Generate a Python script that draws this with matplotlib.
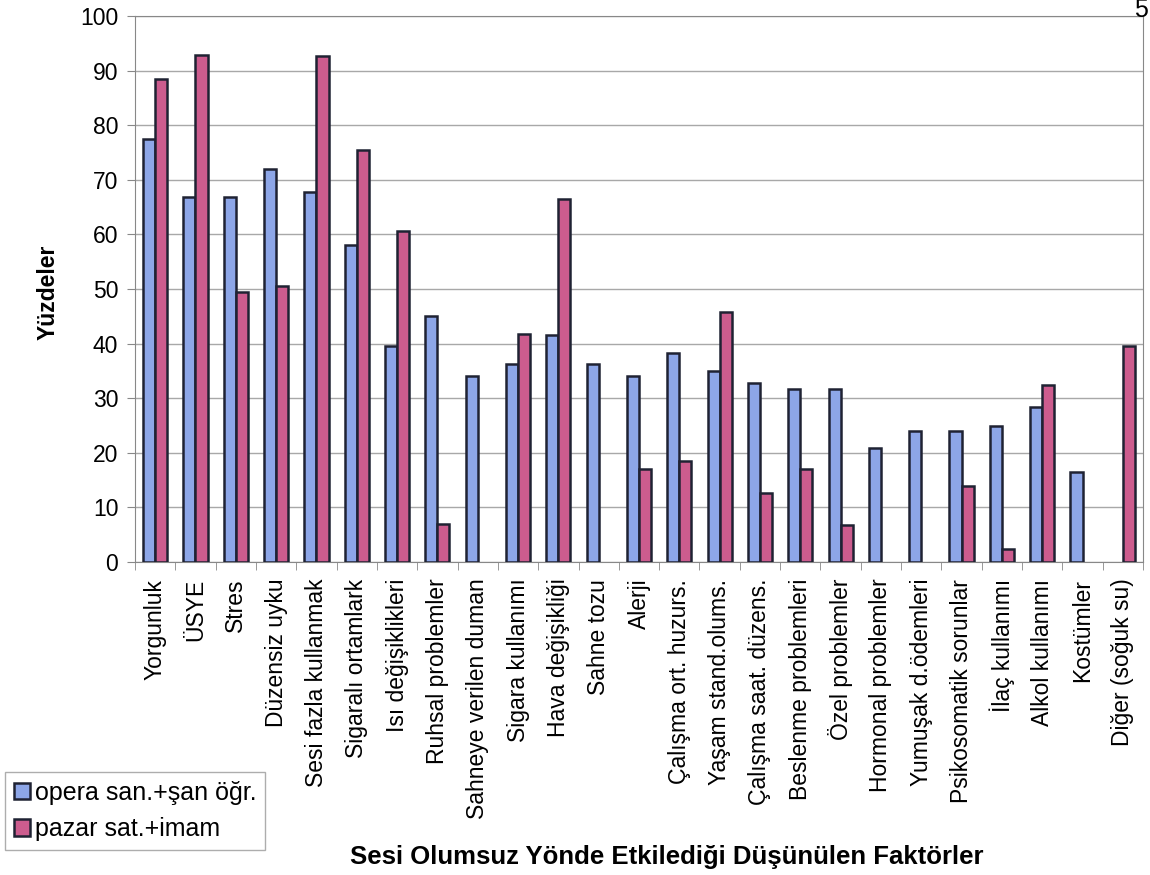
import numpy as np
import matplotlib.pyplot as plt
from matplotlib.ticker import MultipleLocator

plt.rcParams['font.family'] = ['Liberation Sans', 'DejaVu Sans']

categories = ['Yorgunluk', 'ÜSYE', 'Stres', 'Düzensiz uyku', 'Sesi fazla kullanmak',
              'Sigaralı ortamlark', 'Isı değişiklikleri', 'Ruhsal problemler',
              'Sahneye verilen duman', 'Sigara kullanımı', 'Hava değişikliği',
              'Sahne tozu', 'Alerji', 'Çalışma ort. huzurs.', 'Yaşam stand.olums.',
              'Çalışma saat. düzens.', 'Beslenme problemleri', 'Özel problemler',
              'Hormonal problemler', 'Yumuşak d.ödemleri', 'Psikosomatik sorunlar',
              'İlaç kullanımı', 'Alkol kullanımı', 'Kostümler', 'Diğer (soğuk su)']
opera = [77.4, 66.8, 66.8, 72.0, 67.7, 58.0, 39.5, 45.0, 34.0, 36.3, 41.6, 36.2,
         34.0, 38.3, 35.0, 32.8, 31.7, 31.6, 20.8, 24.0, 24.0, 25.0, 28.3, 16.5, 0]
pazar = [88.4, 92.8, 49.4, 50.6, 92.6, 75.4, 60.7, 7.0, 0, 41.7, 66.4, 0,
         17.0, 18.5, 45.8, 12.7, 17.0, 6.8, 0, 0, 14.0, 2.3, 32.5, 0, 39.6]
series_names = ['opera san.+şan öğr.', 'pazar sat.+imam']

fig = plt.figure(figsize=(11.5, 8.75), dpi=100)
ax = fig.add_axes([135 / 1150, 1 - 562 / 875, 1008 / 1150, 546 / 875])

x = np.arange(len(categories))
w = 0.3
edge = '#1f2233'

# zero values are not drawn (no outline on the baseline)
op = np.array(opera)
pz = np.array(pazar)
m1 = op > 0
m2 = pz > 0
b1 = ax.bar(x[m1] - w / 2, op[m1], w, color='#8DA6E8', edgecolor=edge, linewidth=1.8,
            label=series_names[0], zorder=3)
b2 = ax.bar(x[m2] + w / 2, pz[m2], w, color='#CC5C8E', edgecolor=edge, linewidth=1.8,
            label=series_names[1], zorder=3)

ax.set_xlim(-0.5, len(categories) - 0.5)
ax.set_ylim(0, 100)
ax.yaxis.set_major_locator(MultipleLocator(10))
ax.yaxis.grid(True, color='#a8a8a8', linewidth=1.0, zorder=0)
ax.set_axisbelow(True)

ax.set_xticks(x)
ax.set_xticklabels(categories, rotation=90, fontsize=16.5)
ax.set_xticks(np.arange(len(categories) + 1) - 0.5, minor=True)
ax.tick_params(axis='x', which='major', length=0, pad=12)
ax.tick_params(axis='x', which='minor', length=6, color='#888888', direction='out')
ax.tick_params(axis='y', labelsize=16.5, length=6, color='#888888', direction='out', pad=6)

for s in ax.spines.values():
    s.set_color('#888888')

fig.text(48 / 1150, 1 - 292 / 875, 'Yüzdeler', rotation=90, ha='center', va='center',
         fontsize=16.5, fontweight='bold')
fig.text(667 / 1150, 1 - 857 / 875, 'Sesi Olumsuz Yönde Etkilediği Düşünülen Faktörler',
         ha='center', va='center', fontsize=18.5, fontweight='bold')
fig.text(1148 / 1150, 1 - 10 / 875, '5', ha='right', va='center', fontsize=18)

leg = fig.legend(handles=[b1, b2], loc='lower left',
                 bbox_to_anchor=(5 / 1150, 1 - 850 / 875), fontsize=18,
                 frameon=True, fancybox=False, edgecolor='#999999',
                 handlelength=0.65, handleheight=0.65, handletextpad=0.2,
                 borderpad=0.35, borderaxespad=0, labelspacing=0.5)

fig.savefig('out.png', dpi=100)
